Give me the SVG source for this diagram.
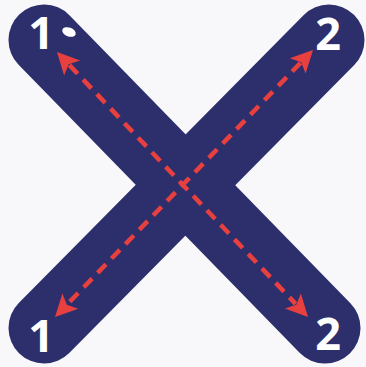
<svg xmlns="http://www.w3.org/2000/svg" width="366" height="367" viewBox="0 0 366 367">
  <style>
    .band { stroke: #2d2f6d; stroke-width: 71; stroke-linecap: round; fill: none; }
    .dash { stroke: #e8403f; stroke-width: 4.5; stroke-dasharray: 12 8; fill: none; }
    .head { fill: #e8403f; }
    .num { fill: #ffffff; font-family: "Open Sans", "Liberation Sans", sans-serif; font-weight: 700; font-size: 45px; text-anchor: middle; }
  </style>
  <rect x="0" y="0" width="366" height="367" fill="#f8f8fa"/>
  <g id="x-shape">
    <line class="band" x1="44" y1="40" x2="325" y2="328"/>
    <line class="band" x1="329" y1="40" x2="44" y2="328"/>
    <ellipse cx="69" cy="32" rx="7" ry="4.5" fill="#ffffff" transform="rotate(20 69 32)"/>
  </g>
  <g id="connectors">
    <line class="dash" x1="69.4" y1="65.1" x2="295.6" y2="303.9"/>
    <polygon class="head" points="57,52 64.1,75.5 68.7,64.3 80.1,60.4"/>
    <polygon class="head" points="308,317 300.9,293.5 296.3,304.7 284.9,308.6"/>
    <line class="dash" x1="300.5" y1="62.9" x2="67.5" y2="304.1"/>
    <polygon class="head" points="313,50 289.8,58.2 301.2,62.2 305.6,73.5"/>
    <polygon class="head" points="55,317 62.4,293.5 66.8,304.8 78.2,308.8"/>
  </g>
  <g id="node-1-top"><text class="num" x="41" y="49">1</text></g>
  <g id="node-2-top"><text class="num" x="328" y="50">2</text></g>
  <g id="node-1-bottom"><text class="num" x="41" y="352">1</text></g>
  <g id="node-2-bottom"><text class="num" x="328" y="350">2</text></g>
</svg>
